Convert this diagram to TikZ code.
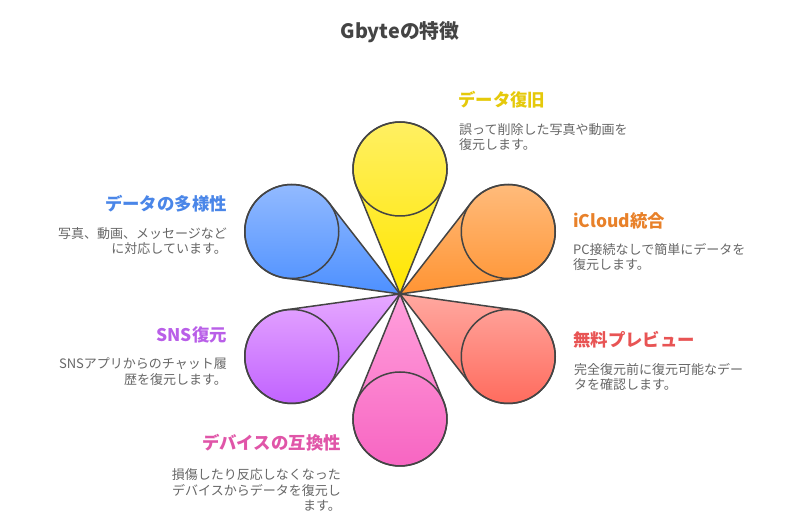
\documentclass[tikz,border=0pt]{standalone}
\usepackage{fontspec}
\setmainfont{Noto Sans CJK JP}
\definecolor{outline}{HTML}{444444}
\definecolor{bodytext}{HTML}{666666}
\definecolor{yellowhead}{HTML}{E5C90A}
\definecolor{orangehead}{HTML}{E8812A}
\definecolor{redhead}{HTML}{E85454}
\definecolor{pinkhead}{HTML}{E055A8}
\definecolor{purplehead}{HTML}{B95FE8}
\definecolor{bluehead}{HTML}{4A86E8}
\tikzset{
  title/.style={font=\fontsize{19.8}{24}\selectfont\bfseries,text=outline},
  head/.style={font=\fontsize{17.4}{21}\selectfont\bfseries,inner sep=0pt},
  desc/.style={font=\fontsize{13}{15.8}\selectfont,text=bodytext,inner sep=0pt},
  petal/.style={draw=outline,line width=1.5pt,line join=round}
}
% angle, top colour, bottom colour
\newcommand{\petalshape}[3]{
  \definecolor{petaltop}{HTML}{#2}
  \definecolor{petalbottom}{HTML}{#3}
  \shade[petal,top color=petaltop,bottom color=petalbottom] (hub) -- ++(#1+22.08:115.8)
    arc[start angle=#1+112.08,end angle=#1-112.08,radius=47] -- cycle;
  \draw[petal] (hub) ++(#1:125) circle (47);
}
\begin{document}
\begin{tikzpicture}[x=1pt,y=1pt]
    \useasboundingbox (0,0) rectangle (800,522);
    \coordinate (hub) at (400,228);

    \node at (400,490) [title] (gbyte) {Gbyteの特徴};

    \petalshape{90}{FFF066}{FFE600}
    \petalshape{30}{FFBD7F}{FF9433}
    \petalshape{-30}{FFA8A0}{FF6A5C}
    \petalshape{-90}{FFA0DC}{F763C1}
    \petalshape{-150}{E6A8FF}{BF5FFF}
    \petalshape{150}{94BBFF}{4D90FF}

    \node at (458,422) [head,anchor=west,text=yellowhead] (recoverhead) {データ復旧};
    \node at (459,385) [desc,anchor=west,align=left] (recoverdesc) {誤って削除した写真や動画を\\復元します。};

    \node at (573,301) [head,anchor=west,text=orangehead] (icloudhead) {iCloud統合};
    \node at (573,265) [desc,anchor=west,align=left] (iclouddesc) {PC接続なしで簡単にデータを\\復元します。};

    \node at (573,182) [head,anchor=west,text=redhead] (previewhead) {無料プレビュー};
    \node at (574,145) [desc,anchor=west,align=left] (previewdesc) {完全復元前に復元可能なデー\\タを確認します。};

    \node at (341,79) [head,anchor=east,text=pinkhead] (devicehead) {デバイスの互換性};
    \node at (341,32) [desc,anchor=east,align=right] (devicedesc) {損傷したり反応しなくなった\\デバイスからデータを復元し\\ます。};

    \node at (227,187) [head,anchor=east,text=purplehead] (snshead) {SNS復元};
    \node at (227,150) [desc,anchor=east,align=right] (snsdesc) {SNSアプリからのチャット履\\歴を復元します。};

    \node at (227,318) [head,anchor=east,text=bluehead] (varietyhead) {データの多様性};
    \node at (227,281) [desc,anchor=east,align=right] (varietydesc) {写真、動画、メッセージなど\\に対応しています。};
\end{tikzpicture}
\end{document}
